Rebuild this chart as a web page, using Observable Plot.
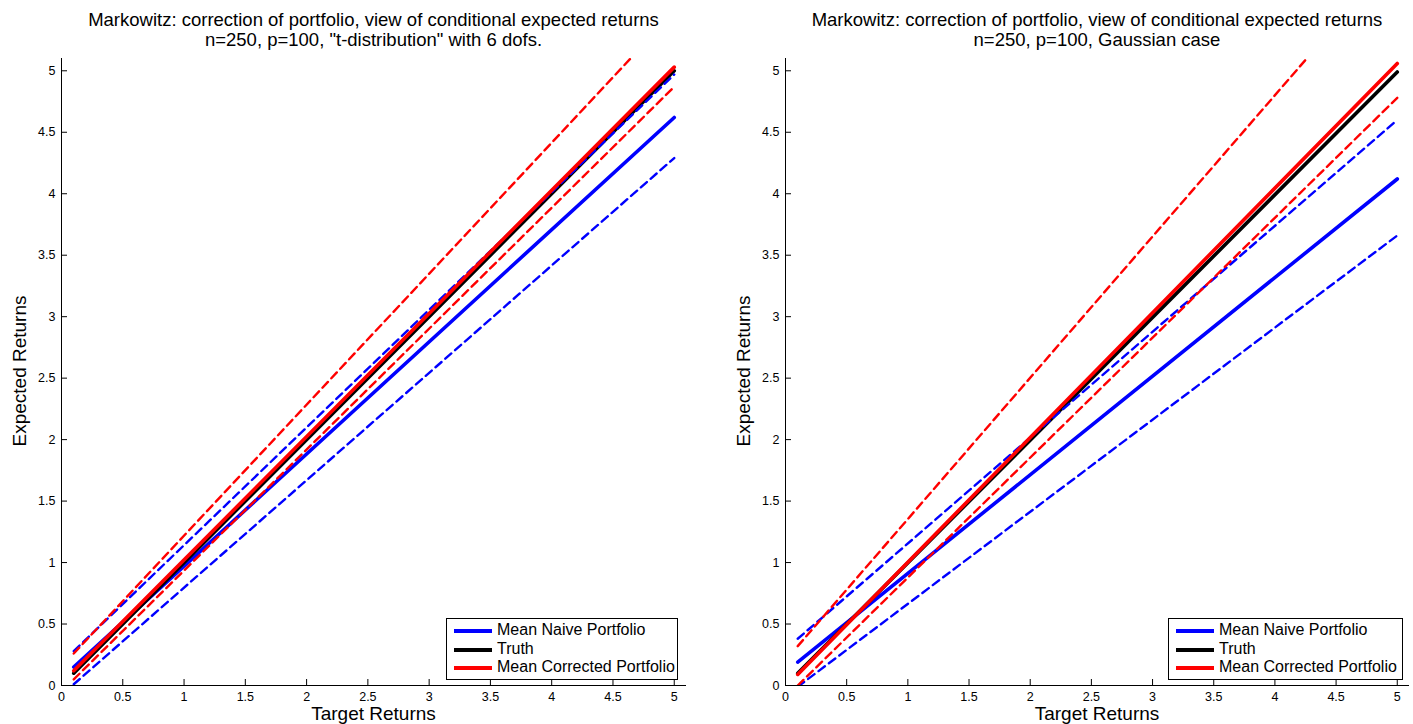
<!DOCTYPE html>
<html>
<head>
<meta charset="utf-8">
<script src="https://cdn.jsdelivr.net/npm/d3@7"></script>
<script src="https://cdn.jsdelivr.net/npm/@observablehq/plot@0.6"></script>
<style>
  html, body { margin: 0; padding: 0; background: #fff; }
  body { font-family: "Liberation Sans", Arial, Helvetica, sans-serif; color: #000; }
  #wrap { position: relative; width: 1413px; height: 724px; overflow: hidden; }
  .panel { position: absolute; top: 0; height: 724px; }
  .panel svg { display: block; }
  .title { position: absolute; top: 10px; transform: translateX(-50%); text-align: center;
           font-size: 18.5px; line-height: 20px; white-space: nowrap; }
  .xlabel { position: absolute; top: 704px; transform: translateX(-50%); font-size: 19px;
            line-height: 20px; white-space: nowrap; }
  .ylabel { position: absolute; top: 371px; font-size: 19px; line-height: 20px; white-space: nowrap;
            transform: translate(-50%, -50%) rotate(-90deg); }
  .legend { position: absolute; top: 618px; height: 58px; border: 1px solid #000; background: #fff;
            padding-top: 2px; box-sizing: content-box; }
  .legend .row { position: relative; height: 18.5px; font-size: 16px; line-height: 18.5px; white-space: nowrap; }
  .legend .swatch { position: absolute; left: 7px; top: 8px; width: 38px; height: 0; border-top: 4px solid; }
  .legend .lbl { position: absolute; left: 50px; top: 0; }
</style>
</head>
<body>
<div id="wrap"></div>
<script>
// ---------- data ----------
const targetReturns = [0.1, 5.0];            // x: target returns at start / end of each line
const tickValues = [0, 0.5, 1, 1.5, 2, 2.5, 3, 3.5, 4, 4.5, 5];

// Left panel: "t-distribution" with 6 dofs
const tTitle = ["Markowitz: correction of portfolio, view of conditional expected returns",
                "n=250, p=100, \"t-distribution\" with 6 dofs."];
const tNaiveMean  = [0.15, 4.62];
const tNaiveUpper = [0.28, 4.97];
const tNaiveLower = [0.01, 4.29];
const tTruth      = [0.10, 5.00];
const tCorrMean   = [0.12, 5.03];
const tCorrUpper  = [0.26, 5.48];
const tCorrLower  = [0.05, 4.87];

// Right panel: Gaussian case
const gTitle = ["Markowitz: correction of portfolio, view of conditional expected returns",
                "n=250, p=100, Gaussian case"];
const gNaiveMean  = [0.19, 4.12];
const gNaiveUpper = [0.38, 4.60];
const gNaiveLower = [-0.01, 3.66];
const gTruth      = [0.10, 4.99];
const gCorrMean   = [0.09, 5.06];
const gCorrUpper  = [0.32, 5.95];
const gCorrLower  = [0.00, 4.78];

const legendLabels = ["Mean Naive Portfolio", "Truth", "Mean Corrected Portfolio"];
const legendColors = ["#0000ff", "#000000", "#ff0000"];
const xLabel = "Target Returns";
const yLabel = "Expected Returns";

// ---------- drawing ----------
const FONT = "'Liberation Sans', Arial, Helvetica, sans-serif";
const toRows = ys => targetReturns.map((x, i) => ({x, y: ys[i]}));

function makePanel(s, geom) {
  const H = 724, mt = 58, mb = 39;
  const frameH = H - mt - mb;
  const frameW = geom.width - geom.marginLeft - geom.marginRight;
  const solid = (ys, color) => Plot.line(toRows(ys), {x: "x", y: "y", stroke: color, strokeWidth: 3.6, clip: true});
  const dashed = (ys, color) => Plot.line(toRows(ys), {x: "x", y: "y", stroke: color, strokeWidth: 2.4, strokeDasharray: "8,5", clip: true});
  return Plot.plot({
    width: geom.width, height: H,
    marginTop: mt, marginBottom: mb, marginLeft: geom.marginLeft, marginRight: geom.marginRight,
    x: {domain: [0, 5.1]},
    y: {domain: [0, 5.1]},
    style: {fontFamily: FONT, fontSize: "12px", color: "#000", background: "transparent", overflow: "visible"},
    marks: [
      Plot.axisX(tickValues, {tickSize: 0, tickPadding: 7, tickFormat: d => String(d), label: null, fontSize: 12.5}),
      Plot.axisY(tickValues, {tickSize: 0, tickPadding: 6, tickFormat: d => String(d), label: null, fontSize: 12.5}),
      Plot.tickX(tickValues, {x: d => d, insetTop: frameH - 6, stroke: "#000", strokeWidth: 1}),
      Plot.tickY(tickValues, {y: d => d, insetRight: frameW - 6, stroke: "#000", strokeWidth: 1}),
      solid(s.naiveMean, "#0000ff"),
      solid(s.truth, "#000000"),
      dashed(s.naiveUpper, "#0000ff"),
      dashed(s.naiveLower, "#0000ff"),
      solid(s.corrMean, "#ff0000"),
      dashed(s.corrUpper, "#ff0000"),
      dashed(s.corrLower, "#ff0000"),
      Plot.ruleX([0], {stroke: "#000", strokeWidth: 1}),
      Plot.ruleY([0], {stroke: "#000", strokeWidth: 1})
    ]
  });
}

const wrap = document.getElementById("wrap");

function addPanel(s, geom, title, legendGeom) {
  const div = document.createElement("div");
  div.className = "panel";
  div.style.left = geom.left + "px";
  div.style.width = geom.width + "px";
  div.appendChild(makePanel(s, geom));
  wrap.appendChild(div);

  const cx = geom.left + geom.marginLeft + (geom.width - geom.marginLeft - geom.marginRight) / 2;
  const t = document.createElement("div");
  t.className = "title";
  t.style.left = cx + "px";
  title.forEach(line => { const d = document.createElement("div"); d.textContent = line; t.appendChild(d); });
  wrap.appendChild(t);

  const xl = document.createElement("div");
  xl.className = "xlabel"; xl.style.left = cx + "px"; xl.textContent = xLabel;
  wrap.appendChild(xl);

  const yl = document.createElement("div");
  yl.className = "ylabel"; yl.style.left = geom.ylabelX + "px"; yl.textContent = yLabel;
  wrap.appendChild(yl);

  const lg = document.createElement("div");
  lg.className = "legend";
  lg.style.left = legendGeom.left + "px";
  lg.style.width = legendGeom.width + "px";
  legendLabels.forEach((lab, i) => {
    const row = document.createElement("div"); row.className = "row";
    const sw = document.createElement("div"); sw.className = "swatch"; sw.style.borderTopColor = legendColors[i];
    const tx = document.createElement("div"); tx.className = "lbl"; tx.textContent = lab;
    row.appendChild(sw); row.appendChild(tx); lg.appendChild(row);
  });
  wrap.appendChild(lg);
}

addPanel(
  {naiveMean: tNaiveMean, naiveUpper: tNaiveUpper, naiveLower: tNaiveLower, truth: tTruth,
   corrMean: tCorrMean, corrUpper: tCorrUpper, corrLower: tCorrLower},
  {left: 0, width: 706, marginLeft: 61, marginRight: 20, ylabelX: 20},
  tTitle, {left: 446, width: 230}
);
addPanel(
  {naiveMean: gNaiveMean, naiveUpper: gNaiveUpper, naiveLower: gNaiveLower, truth: gTruth,
   corrMean: gCorrMean, corrUpper: gCorrUpper, corrLower: gCorrLower},
  {left: 706, width: 707, marginLeft: 79, marginRight: 4, ylabelX: 744},
  gTitle, {left: 1168, width: 233}
);
</script>
</body>
</html>
